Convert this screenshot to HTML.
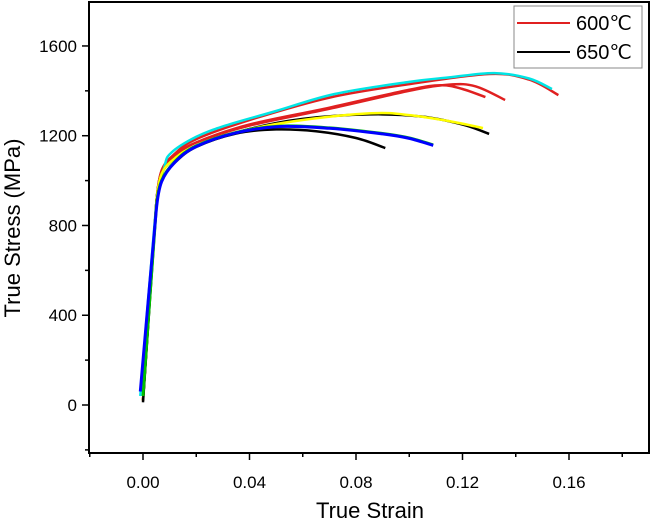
<!DOCTYPE html>
<html><head><meta charset="utf-8"><style>
body{margin:0;background:#fff}
svg{display:block;font-family:"Liberation Sans",Arial,sans-serif}
</style></head><body>
<svg id="chart" width="650" height="520" viewBox="0 0 650 520">
<rect x="0" y="0" width="650" height="520" fill="#fff"/>
<g id="curves"></g>
<rect x="89" y="2" width="560" height="451" fill="none" stroke="#000" stroke-width="2"/>
<g id="xticks"></g>
<g id="yticks"></g>
<text x="370" y="518" font-size="22" text-anchor="middle">True Strain</text>
<text transform="translate(20,228) rotate(-90)" font-size="22" text-anchor="middle">True Stress (MPa)</text>
<g>
<rect x="514" y="6" width="128" height="62" fill="#fff" stroke="#888" stroke-width="1"/>
<line x1="517" y1="23" x2="570" y2="23" stroke="#e02020" stroke-width="2"/>
<text x="576" y="30" font-size="20">600℃</text>
<line x1="517" y1="52" x2="570" y2="52" stroke="#000" stroke-width="2"/>
<text x="576" y="59" font-size="20">650℃</text>
</g>
</svg>
<script>
const xTicks=[0,0.04,0.08,0.12,0.16];
const xTickLabels=["0.00","0.04","0.08","0.12","0.16"];
const yTicks=[0,400,800,1200,1600];
const yTickLabels=["0","400","800","1200","1600"];
const seriesColors=["#e02020","#e02020","#e02020","#00e5e5","#000000","#ffff00","#000000","#00c000","#0000ff"];
const s1=[[0,20],[0.005,900],[0.007,1040],[0.012,1110],[0.02,1170],[0.04,1245],[0.07,1320],[0.1,1400],[0.115,1428],[0.125,1420],[0.136,1359]];
const s2=[[0,20],[0.005,900],[0.007,1040],[0.012,1110],[0.02,1170],[0.04,1250],[0.07,1325],[0.1,1405],[0.112,1425],[0.12,1408],[0.1286,1372]];
const s3=[[0,20],[0.005,900],[0.007,1045],[0.012,1120],[0.02,1185],[0.04,1270],[0.07,1370],[0.1,1430],[0.13,1475],[0.145,1450],[0.156,1381]];
const s4=[[-0.001,40],[0.005,900],[0.008,1060],[0.0105,1123],[0.02,1195],[0.031,1245],[0.05,1310],[0.072,1386],[0.1,1440],[0.115,1460],[0.132,1479],[0.145,1455],[0.1536,1408]];
const s5=[[0,20],[0.005,900],[0.007,1030],[0.012,1100],[0.02,1155],[0.04,1230],[0.06,1275],[0.085,1295],[0.105,1285],[0.12,1250],[0.130,1208]];
const s6=[[0,20],[0.005,900],[0.007,1030],[0.012,1100],[0.02,1155],[0.04,1228],[0.06,1270],[0.0857,1300],[0.1,1292],[0.115,1265],[0.1277,1234]];
const s7=[[0,12],[0.005,880],[0.007,1000],[0.012,1080],[0.02,1150],[0.035,1210],[0.05,1228],[0.065,1220],[0.08,1190],[0.091,1145]];
const s8=[[0,40],[0.005,880],[0.007,1000],[0.012,1085],[0.02,1155],[0.035,1215],[0.0515,1243],[0.07,1235],[0.09,1210],[0.1,1190],[0.109,1159]];
const s9=[[-0.001,60],[0.005,870],[0.007,995],[0.012,1082],[0.02,1152],[0.035,1213],[0.0515,1241],[0.07,1233],[0.09,1208],[0.1,1188],[0.109,1157]];
const allSeries=[s1,s2,s3,s4,s5,s6,s7,s8,s9];
const seriesNames=["curve-600-a","curve-600-b","curve-600-c","curve-cyan","curve-650-a","curve-yellow","curve-650-b","curve-green","curve-blue"];
const X=v=>143+v*2662.5;
const Y=s=>405-s*0.2244;
const NS="http://www.w3.org/2000/svg";
function smoothPath(pts){
  let d='M'+pts[0][0].toFixed(1)+','+pts[0][1].toFixed(1);
  for(let i=0;i<pts.length-1;i++){
    const p0=pts[i-1]||pts[i],p1=pts[i],p2=pts[i+1],p3=pts[i+2]||p2;
    const t=i<2?0.08:0.17;
    const c1=[p1[0]+(p2[0]-p0[0])*t,p1[1]+(p2[1]-p0[1])*t];
    const c2=[p2[0]-(p3[0]-p1[0])*t,p2[1]-(p3[1]-p1[1])*t];
    d+=' C'+c1.map(n=>n.toFixed(1)).join(',')+' '+c2.map(n=>n.toFixed(1)).join(',')+' '+p2.map(n=>n.toFixed(1)).join(',');
  }
  return d;
}
const cg=document.getElementById('curves');
allSeries.forEach((d,i)=>{
  const p=document.createElementNS(NS,'path');
  p.setAttribute('d',smoothPath(d.map(q=>[X(q[0]),Y(q[1])])));
  p.setAttribute('fill','none');
  p.setAttribute('stroke',seriesColors[i]);
  p.setAttribute('stroke-width',i>=7?3:2.5);
  p.setAttribute('stroke-linejoin','round');
  
  
  cg.appendChild(p);
});
const xg=document.getElementById('xticks');
for(let v=-0.02;v<=0.1801;v+=0.02){
  const major=xTicks.some(t=>Math.abs(t-v)<1e-6);
  const l=document.createElementNS(NS,'line');
  l.setAttribute('x1',X(v));l.setAttribute('x2',X(v));l.setAttribute('y1',453);l.setAttribute('y2',major?460:457);
  l.setAttribute('stroke','#000');l.setAttribute('stroke-width',1.5);
  
  
  xg.appendChild(l);
}
xTicks.forEach((v,i)=>{
  const t=document.createElementNS(NS,'text');
  t.setAttribute('x',X(v));t.setAttribute('y',488);t.setAttribute('font-size',17);t.setAttribute('text-anchor','middle');
  t.textContent=xTickLabels[i];
  
  
  xg.appendChild(t);
});
const yg=document.getElementById('yticks');
for(let s=-200;s<=1800;s+=200){
  if(Y(s)>453||Y(s)<2)continue;
  const major=yTicks.includes(s);
  const l=document.createElementNS(NS,'line');
  l.setAttribute('x1',major?82:85);l.setAttribute('x2',89);l.setAttribute('y1',Y(s));l.setAttribute('y2',Y(s));
  l.setAttribute('stroke','#000');l.setAttribute('stroke-width',1.5);
  
  
  yg.appendChild(l);
}
yTicks.forEach((s,i)=>{
  const t=document.createElementNS(NS,'text');
  t.setAttribute('x',77);t.setAttribute('y',Y(s)+6);t.setAttribute('font-size',17);t.setAttribute('text-anchor','end');
  t.textContent=yTickLabels[i];
  
  
  yg.appendChild(t);
});
</script>
</body></html>
